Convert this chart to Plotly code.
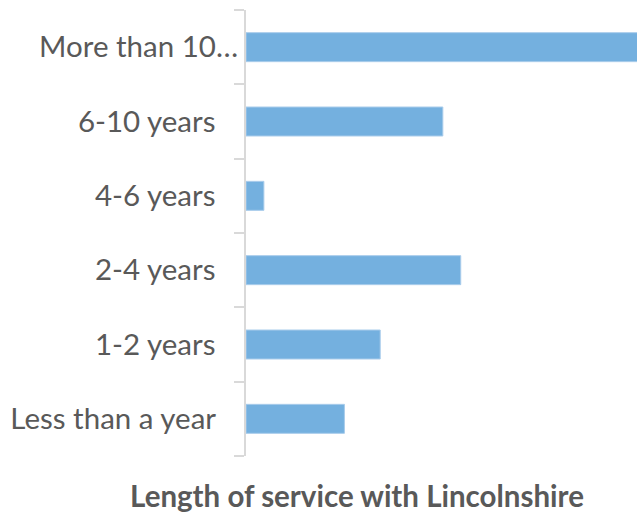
import plotly.graph_objects as go

categories = ["More than 10 years", "6-10 years", "4-6 years", "2-4 years", "1-2 years", "Less than a year"]
pad = "\u00a0\u00a0\u00a0"
tick_labels = ["More than 10…", "6-10 years" + pad, "4-6 years" + pad, "2-4 years" + pad, "1-2 years" + pad, "Less than a year" + pad]
values = [50, 22, 2, 24, 15, 11]
x_max = 43.7

fig = go.Figure(
    go.Bar(
        y=categories,
        x=values,
        orientation="h",
        marker=dict(color="#74B0DF", line=dict(color="#A9CCEB", width=1)),
        hoverinfo="x+y",
    )
)

font_family = "Lato, 'Open Sans', sans-serif"

fig.update_layout(
    width=637,
    height=513,
    margin=dict(l=246, r=0, t=10, b=57),
    paper_bgcolor="white",
    plot_bgcolor="white",
    bargap=0.61,
    showlegend=False,
    font=dict(family=font_family, color="#595959"),
    title=dict(
        text="<b>Length of service with Lincolnshire</b>",
        x=357 / 637,
        xanchor="center",
        xref="container",
        y=(513 - 497) / 513,
        yanchor="middle",
        yref="container",
        font=dict(size=29.5, color="#595959", family=font_family),
    ),
)

fig.update_xaxes(
    range=[0, x_max],
    showgrid=False,
    zeroline=False,
    showticklabels=False,
    showline=False,
    ticks="",
    fixedrange=True,
)

fig.update_yaxes(
    type="category",
    autorange="reversed",
    tickmode="array",
    tickvals=categories,
    ticktext=tick_labels,
    tickson="boundaries",
    ticks="outside",
    ticklen=10,
    tickcolor="#D9D9D9",
    tickwidth=2,
    showline=True,
    linecolor="#D9D9D9",
    linewidth=2,
    showgrid=False,
    tickfont=dict(size=29.5, color="#595959", family=font_family),
    ticklabelstandoff=0,
    automargin=False,
    fixedrange=True,
)

fig.write_html(
    "out.html",
    config={"displayModeBar": False},
    post_script="document.body.style.margin='0';document.body.style.overflow='hidden';",
)
